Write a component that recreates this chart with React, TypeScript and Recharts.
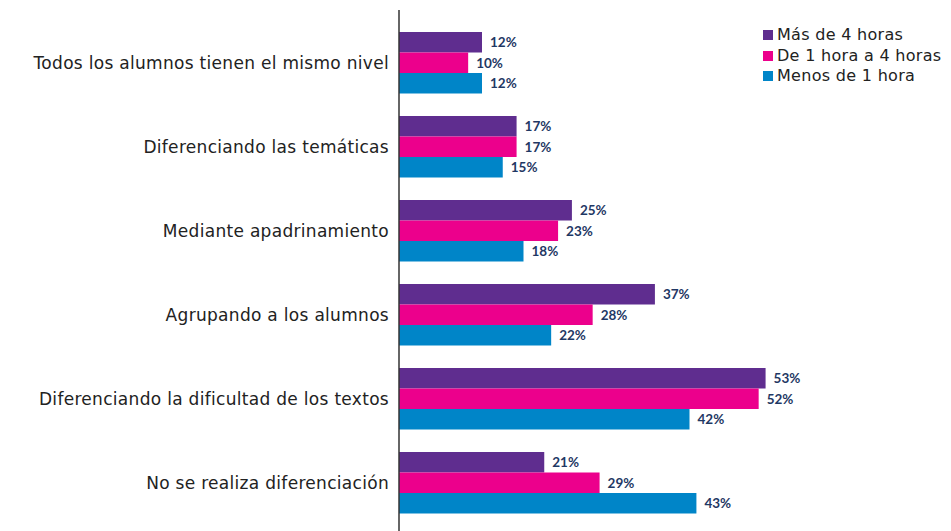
import React from "react";
import { BarChart, Bar, XAxis, YAxis, LabelList } from "recharts";

const categories = [
  "Todos los alumnos tienen el mismo nivel",
  "Diferenciando las temáticas",
  "Mediante apadrinamiento",
  "Agrupando a los alumnos",
  "Diferenciando la dificultad de los textos",
  "No se realiza diferenciación",
];
const masDe4 = [12, 17, 25, 37, 53, 21];
const de1a4 = [10, 17, 23, 28, 52, 29];
const menosDe1 = [12, 15, 18, 22, 42, 43];

const series = [
  { key: "masDe4", name: "Más de 4 horas", color: "#5f2d8f" },
  { key: "de1a4", name: "De 1 hora a 4 horas", color: "#ec008c" },
  { key: "menosDe1", name: "Menos de 1 hora", color: "#0085c8" },
];

const data = categories.map((name, i) => ({
  name,
  masDe4: masDe4[i],
  de1a4: de1a4[i],
  menosDe1: menosDe1[i],
}));

const catFont = "'DejaVu Sans', sans-serif";

function LegendBox() {
  return (
    <div
      style={{
        position: "absolute",
        left: 763,
        top: 25,
        fontFamily: catFont,
        fontSize: 16,
        letterSpacing: 0.3,
        color: "#222",
        lineHeight: "20.5px",
      }}
    >
      {series.map((s) => (
        <div key={s.key} style={{ display: "flex", alignItems: "center", height: 20.5 }}>
          <span
            style={{
              display: "inline-block",
              width: 10,
              height: 10,
              background: s.color,
              marginRight: 4,
            }}
          />
          {s.name}
        </div>
      ))}
    </div>
  );
}

export default function App() {
  return (
    <div style={{ position: "relative", width: 951, height: 531, background: "#fff" }}>
      <style>{`body{margin:0}`}</style>
      <BarChart
        width={951}
        height={531}
        data={data}
        layout="vertical"
        margin={{ top: 10, right: 137, left: 0, bottom: 0 }}
        barGap={0}
        barSize={20.5}
      >
        <XAxis type="number" domain={[0, 60]} hide />
        <YAxis
          type="category"
          dataKey="name"
          width={399}
          padding={{ top: 11, bottom: 6 }}
          tickLine={false}
          tickMargin={4}
          axisLine={{ stroke: "#333", strokeWidth: 1.5 }}
          tick={{ fontSize: 17, fill: "#222", fontFamily: catFont, letterSpacing: 0.3 }}
        />
        {series.map((s) => (
          <Bar key={s.key} dataKey={s.key} name={s.name} fill={s.color} isAnimationActive={false}>
            <LabelList
              dataKey={s.key}
              position="right"
              offset={8}
              formatter={(v: any) => `${v}%`}
              style={{ fontFamily: "Lato, sans-serif", fontWeight: 700, fontSize: 13.5, fill: "#1f3864" }}
            />
          </Bar>
        ))}
      </BarChart>
      <LegendBox />
    </div>
  );
}
